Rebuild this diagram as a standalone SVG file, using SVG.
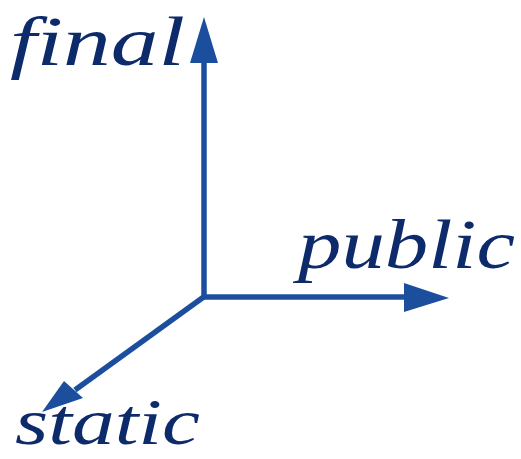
<svg xmlns="http://www.w3.org/2000/svg" width="521" height="459" viewBox="0 0 521 459">
<style>
.lbl{font-family:"Liberation Serif","DejaVu Serif",serif;font-style:italic;font-size:70px;fill:#0d2a6b}
.ax{stroke:#1b4f9e;stroke-width:5.5;fill:none}
.hd{fill:#1b4f9e}
</style>
<rect width="521" height="459" fill="#ffffff"/>
<g id="connectors">
<line class="ax" x1="204" y1="297" x2="204" y2="58"/>
<polygon class="hd" points="204,17 218,63 190,63"/>
<line class="ax" x1="202" y1="297" x2="410" y2="297"/>
<polygon class="hd" points="449,298 404,283 404,312"/>
<line class="ax" x1="205" y1="296" x2="75" y2="390"/>
<polygon class="hd" points="42,412 64,381 83,398"/>
</g>
<g id="final"><text class="lbl" x="10" y="65" textLength="175" lengthAdjust="spacingAndGlyphs">final</text></g>
<g id="public"><text class="lbl" x="298" y="268" textLength="217" lengthAdjust="spacingAndGlyphs">public</text></g>
<g id="static"><text class="lbl" x="15" y="444" style="font-size:66px" textLength="185" lengthAdjust="spacingAndGlyphs">static</text></g>
</svg>
